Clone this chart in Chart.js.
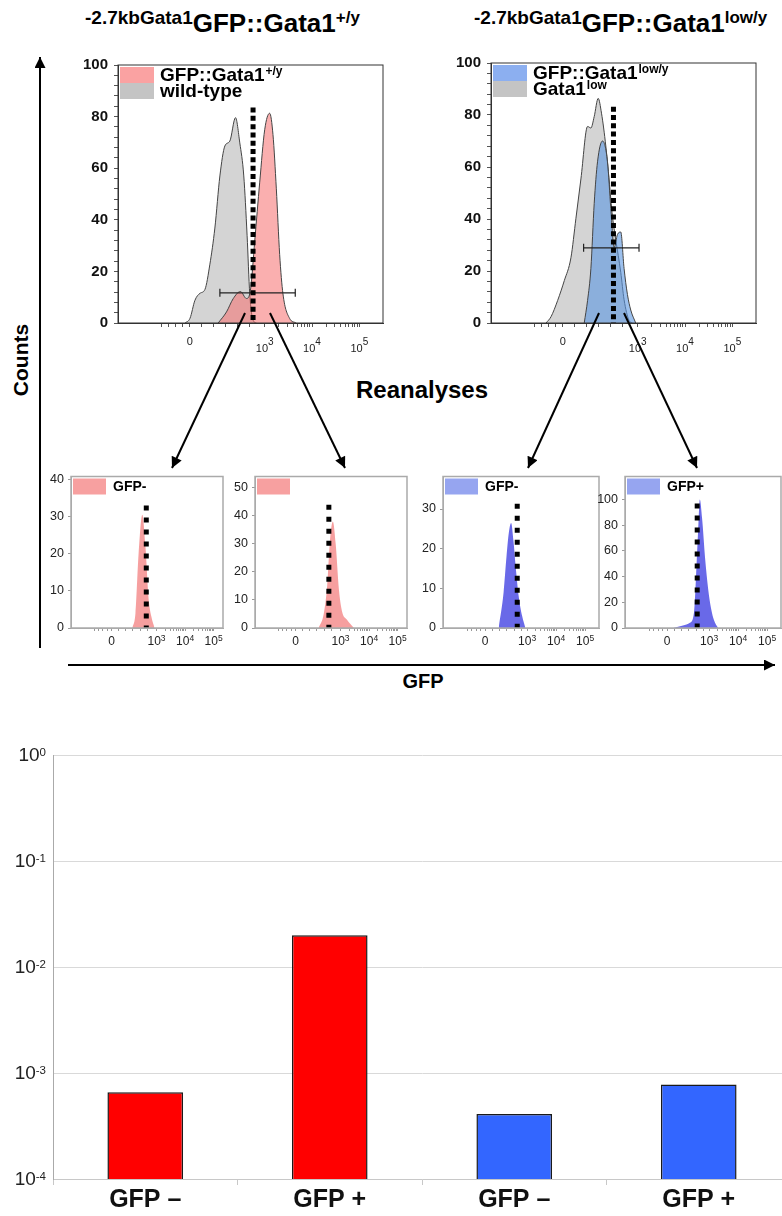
<!DOCTYPE html>
<html>
<head>
<meta charset="utf-8">
<script src="https://cdn.jsdelivr.net/npm/chart.js@4.4.0/dist/chart.umd.min.js"></script>
<style>
  html, body { margin: 0; padding: 0; background: #fff; }
  body { width: 782px; height: 1216px; overflow: hidden; position: relative; font-family: 'Liberation Sans', Arial, sans-serif; color: #000; }
  canvas { position: absolute; }
  .txt { position: absolute; font-weight: bold; white-space: nowrap; line-height: 1; }
  .ttl { font-size: 26px; }
  .ttl .pre { font-size: 19px; vertical-align: 8px; }
  .ttl .post { font-size: 17px; vertical-align: 9px; }
  svg { position: absolute; left: 0; top: 0; }
</style>
</head>
<body>
<div class="txt ttl" style="left:85px;top:8px"><span class="pre">-2.7kbGata1</span>GFP::Gata1<span class="post">+/y</span></div>
<div class="txt ttl" style="left:474px;top:8px"><span class="pre">-2.7kbGata1</span>GFP::Gata1<span class="post">low/y</span></div>
<div class="txt" style="left:20px;top:360px;font-size:21px;transform:translate(-50%,-50%) rotate(-90deg)">Counts</div>
<div class="txt" style="left:422px;top:378px;font-size:24px;transform:translateX(-50%)">Reanalyses</div>
<div class="txt" style="left:423px;top:671px;font-size:20px;transform:translateX(-50%)">GFP</div>

<canvas id="topWt" width="320" height="310" style="left:70px;top:50px"></canvas>
<canvas id="topLow" width="320" height="312" style="left:443px;top:48px"></canvas>
<canvas id="reA" width="190" height="190" style="left:40px;top:465px"></canvas>
<canvas id="reB" width="190" height="190" style="left:224px;top:465px"></canvas>
<canvas id="reC" width="194" height="190" style="left:412px;top:465px"></canvas>
<canvas id="reD" width="194" height="190" style="left:594px;top:465px"></canvas>
<canvas id="bars" width="791" height="476" style="left:0;top:740px"></canvas>

<svg width="782" height="1216">
  <defs>
    <marker id="hd" viewBox="0 0 10 10" refX="10" refY="5" markerUnits="userSpaceOnUse" markerWidth="14" markerHeight="11" orient="auto">
      <path d="M0,0 L10,5 L0,10 z" fill="#000"/>
    </marker>
  </defs>
  <g stroke="#000" stroke-width="2" fill="none">
    <line x1="40" y1="648" x2="40" y2="57" marker-end="url(#hd)"/>
    <line x1="68" y1="665" x2="775" y2="665" marker-end="url(#hd)"/>
    <line x1="245" y1="313" x2="172" y2="468" marker-end="url(#hd)"/>
    <line x1="270" y1="313" x2="345" y2="468" marker-end="url(#hd)"/>
    <line x1="599" y1="313" x2="528" y2="468" marker-end="url(#hd)"/>
    <line x1="624" y1="313" x2="697" y2="468" marker-end="url(#hd)"/>
  </g>
</svg>

<script>
// GFP axis is in display decades: 3 = 10^3, 4 = 10^4 ...
const bigTickValues = [1.42, 3, 4, 5];
const abTickValues = [1.42, 3, 4, 5];
const cdTickValues = [1.55, 3, 4, 5];
const tickBase = ['0', '10', '10', '10'];
const tickSup = ['', '3', '4', '5'];

// top left: wild-type vs GFP::Gata1+/y
const wtGfp = [1.316, 1.421, 1.526, 1.632, 1.737, 1.842, 1.947, 2.053, 2.158, 2.263, 2.383, 2.474, 2.558, 2.628, 2.684, 2.754, 2.825];
const wtCounts = [0, 1.8, 8.8, 11.5, 13, 22.8, 36.8, 57, 68.6, 70.5, 79.6, 69.8, 57, 34, 11.3, 1.1, 0];
const wtTgGfp = [2.017, 2.193, 2.333, 2.488, 2.614, 2.698, 2.789, 2.895, 3.0, 3.105, 3.175, 3.246, 3.316, 3.386, 3.526, 3.667];
const wtTgCounts = [0, 4.3, 9.4, 12.2, 9.5, 12.6, 31.7, 54.6, 74.9, 81.3, 73, 52, 26.6, 11.3, 1.8, 0];
const wtCut = 2.754, wtCutTop = 83.5;
const wtGate = [2.053, 3.646], wtGateY = 11.7;

// top right: Gata1low vs GFP::Gata1low/y
const lowGfp = [1.063, 1.168, 1.309, 1.449, 1.589, 1.695, 1.8, 1.941, 2.011, 2.081, 2.165, 2.235, 2.326, 2.396, 2.467, 2.537, 2.642, 2.712, 2.817, 2.888];
const lowCounts = [0, 2.4, 8.7, 16.3, 25.1, 40.3, 55.4, 75.6, 75, 79.4, 86.4, 80.7, 68.1, 55, 41, 32, 19.5, 9, 1, 0];
const lowTgGfp = [1.87, 1.941, 2.011, 2.081, 2.151, 2.257, 2.362, 2.432, 2.502, 2.572, 2.642, 2.712, 2.783, 2.853, 2.958];
const lowTgCounts = [0, 8.7, 21, 46, 62, 70, 62, 44, 29, 34, 35, 21, 11, 5, 0];
const lowCut = 2.488, lowCutTop = 83.2;
const lowGate = [1.857, 3.028], lowGateY = 28.9;

// reanalyses of sorted fractions
const reWtNegGfp = [2.15, 2.26, 2.37, 2.50, 2.61, 2.72, 2.82, 2.93];
const reWtNegCounts = [0, 4, 20, 30.5, 22, 8, 3, 0];
const reWtPosGfp = [2.23, 2.41, 2.53, 2.62, 2.73, 2.83, 2.94, 3.05, 3.22, 3.47];
const reWtPosCounts = [0, 5, 15, 30, 38, 30, 14, 6, 3, 0];
const reLowNegGfp = [2.02, 2.19, 2.29, 2.37, 2.45, 2.53, 2.60, 2.71, 2.83, 2.94];
const reLowNegCounts = [0, 9, 18, 24, 26.5, 22, 16, 8, 3, 0];
const reLowPosGfp = [1.76, 2.10, 2.34, 2.48, 2.55, 2.62, 2.68, 2.76, 2.86, 2.97, 3.07, 3.17, 3.31];
const reLowPosCounts = [0, 2, 4, 12, 40, 75, 100, 85, 55, 30, 15, 6, 0];
const reCuts = [2.64, 2.59, 2.66, 2.59];
const reCutTops = [33, 44, 31.3, 97];

// bottom bar chart
const barLabels = ['GFP –', 'GFP +', 'GFP –', 'GFP +'];
const barValues = [6.6e-4, 0.0199, 4.1e-4, 7.8e-4];
const decadeTicks = [1, 0.1, 0.01, 0.001, 0.0001];
const decadeSup = ['0', '-1', '-2', '-3', '-4'];

const FAM = "'Liberation Sans', Arial, sans-serif";
Chart.defaults.font.family = FAM;

const RED = 'rgba(245,110,110,0.55)';
const GREY = 'rgb(212,212,212)';
const BLUE = 'rgba(90,150,225,0.6)';
const RED_S = 'rgba(240,100,100,0.62)';
const BLUE_S = 'rgb(105,105,232)';

// box around the plot area
const frame = {
  id: 'frame',
  afterDraw(chart, args, o) {
    if (!o.color) return;
    const { ctx, chartArea: a } = chart;
    ctx.save();
    ctx.strokeStyle = o.color;
    ctx.lineWidth = o.width;
    ctx.strokeRect(a.left, a.top, a.right - a.left, a.bottom - a.top);
    ctx.restore();
  }
};

// legend drawn inside the top-left corner of the plot
const innerLegend = {
  id: 'innerLegend',
  afterDraw(chart, args, o) {
    if (!o.items) return;
    const { ctx, chartArea: a } = chart;
    ctx.save();
    ctx.textBaseline = 'alphabetic';
    o.items.forEach((it, i) => {
      const x = a.left + o.dx, y = a.top + o.dy + i * o.boxH;
      ctx.fillStyle = it.fill;
      ctx.fillRect(x, y, o.boxW, o.boxH);
      if (!it.text) return;
      ctx.fillStyle = '#000';
      ctx.font = o.font;
      const tx = x + o.boxW + o.gap, ty = y + o.base;
      ctx.fillText(it.text, tx, ty);
      if (it.sup) {
        const w = ctx.measureText(it.text).width;
        ctx.font = o.supFont;
        ctx.fillText(it.sup, tx + w + 1, ty - o.rise);
      }
    });
    ctx.restore();
  }
};

// tick labels with superscripts (10^3, 10^-2 ...)
const supTicks = {
  id: 'supTicks',
  afterDraw(chart, args, o) {
    if (!o.values) return;
    const { ctx, chartArea: a } = chart;
    const sc = chart.scales[o.axis];
    ctx.save();
    ctx.fillStyle = o.color;
    ctx.textBaseline = 'alphabetic';
    o.values.forEach((v, i) => {
      const p = sc.getPixelForValue(v);
      ctx.font = o.font;
      const wb = ctx.measureText(o.base[i]).width;
      ctx.font = o.supFont;
      const ws = o.sup[i] ? ctx.measureText(o.sup[i]).width : 0;
      let x, y;
      if (o.axis === 'x') {
        x = p - (wb + ws) / 2;
        y = a.bottom + o.offset - (o.sup[i] ? 0 : o.lift);
      } else {
        x = a.left - o.offset - wb - ws;
        y = p + o.mid;
      }
      ctx.font = o.font;
      ctx.fillText(o.base[i], x, y);
      if (o.sup[i]) {
        ctx.font = o.supFont;
        ctx.fillText(o.sup[i], x + wb, y - o.rise);
      }
    });
    ctx.restore();
  }
};

Chart.register(frame, innerLegend, supTicks);

const pts = (xs, ys) => xs.map((x, i) => ({ x: x, y: ys[i] }));

function gfpTicks(zero, majors, min, max) {
  const t = majors.slice();
  [0.15, 0.3, 0.45, 0.6].forEach(d => t.push(zero - d));
  [0.25, 0.5, 0.75, 1.0, 1.25].forEach(d => t.push(zero + d));
  [3, 4].forEach(d => { for (let k = 2; k < 10; k++) t.push(d + Math.log10(k)); });
  return t.filter(v => v >= min && v <= max).sort((p, q) => p - q).map(v => ({ value: v }));
}

function flowChart(id, o) {
  const big = o.big;
  const datasets = [{
    data: pts([o.cut, o.cut], [o.cutTop, 0]),
    borderColor: '#000', borderWidth: 5, borderDash: big ? [5, 3.3] : [5, 7],
    borderCapStyle: 'butt', pointRadius: 0, fill: false
  }];
  if (o.gate) {
    datasets.push({
      data: pts(o.gate, [o.gateY, o.gateY]),
      borderColor: '#222', borderWidth: 1.2, pointStyle: 'line', rotation: 90,
      pointRadius: 4, pointBorderWidth: 1.2, pointBorderColor: '#222', fill: false
    });
  }
  o.layers.forEach(l => datasets.push({
    data: pts(l.x, l.y), backgroundColor: l.fill, borderColor: l.line, borderWidth: l.lw,
    pointRadius: 0, fill: 'origin', cubicInterpolationMode: 'monotone'
  }));

  return new Chart(document.getElementById(id), {
    type: 'line',
    data: { datasets: datasets },
    options: {
      responsive: false, animation: false, events: [],
      layout: { padding: { top: o.padTop, right: 7, left: 0, bottom: 0 } },
      plugins: {
        legend: { display: false }, tooltip: { enabled: false },
        frame: { color: big ? '#333' : '#aaa', width: big ? 1 : 1.5 },
        innerLegend: big
          ? { items: o.legend, dx: 2, dy: 2, boxW: 34, boxH: 16, gap: 6, base: 14, rise: 6,
              font: 'bold 19px ' + FAM, supFont: 'bold 12px ' + FAM }
          : { items: o.legend, dx: 2, dy: 2, boxW: 33, boxH: 16, gap: 7, base: 12, rise: 5,
              font: 'bold 14px ' + FAM, supFont: 'bold 10px ' + FAM },
        supTicks: big
          ? { axis: 'x', values: o.tickValues, base: tickBase, sup: tickSup, color: '#222',
              font: '11px ' + FAM, supFont: '10px ' + FAM, offset: 29, lift: 7, rise: 7 }
          : { axis: 'x', values: o.tickValues, base: tickBase, sup: tickSup, color: '#222',
              font: '12px ' + FAM, supFont: '8.5px ' + FAM, offset: 17, lift: 0, rise: 4.5 }
      },
      scales: {
        x: {
          type: 'linear', min: o.min, max: o.max,
          afterBuildTicks: s => { s.ticks = gfpTicks(o.tickValues[0], o.tickValues, o.min, o.max); },
          afterFit: s => { s.height = o.xH; },
          ticks: { display: false },
          grid: { drawOnChartArea: false, tickLength: big ? 4 : 3, color: big ? '#555' : '#999' },
          border: { color: big ? '#333' : '#aaa' }
        },
        y: {
          min: 0, max: o.yMax,
          afterFit: s => { s.width = o.yW; },
          ticks: {
            stepSize: o.yStep, includeBounds: false, autoSkip: false,
            callback: v => (v % o.yLabelStep === 0 ? v : ''),
            font: big ? { size: 15, weight: 'bold' } : { size: 12.5 },
            color: big ? '#111' : '#222', padding: big ? 6 : 4
          },
          grid: { drawOnChartArea: false, tickLength: big ? 4 : 3, color: big ? '#555' : '#999' },
          border: { color: big ? '#333' : '#aaa' }
        }
      }
    }
  });
}

const bigCommon = { big: true, min: -0.1, max: 5.5, tickValues: bigTickValues, yMax: 100, yStep: 4, yLabelStep: 20, xH: 37, yW: 48, padTop: 11 };

flowChart('topWt', Object.assign({}, bigCommon, {
  cut: wtCut, cutTop: wtCutTop, gate: wtGate, gateY: wtGateY,
  layers: [
    { x: wtTgGfp, y: wtTgCounts, fill: RED, line: '#444', lw: 1 },
    { x: wtGfp, y: wtCounts, fill: GREY, line: '#444', lw: 1 }
  ],
  legend: [
    { text: 'GFP::Gata1', sup: '+/y', fill: 'rgb(250,162,162)' },
    { text: 'wild-type', sup: '', fill: 'rgb(196,196,196)' }
  ]
}));

flowChart('topLow', Object.assign({}, bigCommon, {
  cut: lowCut, cutTop: lowCutTop, gate: lowGate, gateY: lowGateY,
  layers: [
    { x: lowTgGfp, y: lowTgCounts, fill: BLUE, line: '#444', lw: 1 },
    { x: lowGfp, y: lowCounts, fill: GREY, line: '#444', lw: 1 }
  ],
  legend: [
    { text: 'GFP::Gata1', sup: 'low/y', fill: 'rgb(140,175,240)' },
    { text: 'Gata1', sup: 'low', fill: 'rgb(196,196,196)' }
  ]
}));

const smallCommon = { big: false, xH: 27, yW: 31, padTop: 10 };

flowChart('reA', Object.assign({}, smallCommon, {
  min: 0, max: 5.33, tickValues: abTickValues, yMax: 40.8, yStep: 10, yLabelStep: 10,
  cut: reCuts[0], cutTop: reCutTops[0],
  layers: [{ x: reWtNegGfp, y: reWtNegCounts, fill: RED_S, line: RED_S, lw: 0 }],
  legend: [{ text: 'GFP-', sup: '', fill: 'rgb(247,160,160)' }]
}));

flowChart('reB', Object.assign({}, smallCommon, {
  min: 0, max: 5.33, tickValues: abTickValues, yMax: 54.1, yStep: 10, yLabelStep: 10,
  cut: reCuts[1], cutTop: reCutTops[1],
  layers: [{ x: reWtPosGfp, y: reWtPosCounts, fill: RED_S, line: RED_S, lw: 0 }],
  legend: [{ text: '', sup: '', fill: 'rgb(247,160,160)' }]
}));

flowChart('reC', Object.assign({}, smallCommon, {
  min: 0.1, max: 5.48, tickValues: cdTickValues, yMax: 38.2, yStep: 10, yLabelStep: 10,
  cut: reCuts[2], cutTop: reCutTops[2],
  layers: [{ x: reLowNegGfp, y: reLowNegCounts, fill: BLUE_S, line: BLUE_S, lw: 0 }],
  legend: [{ text: 'GFP-', sup: '', fill: 'rgb(150,165,240)' }]
}));

flowChart('reD', Object.assign({}, smallCommon, {
  min: 0.1, max: 5.48, tickValues: cdTickValues, yMax: 118, yStep: 20, yLabelStep: 20,
  cut: reCuts[3], cutTop: reCutTops[3],
  layers: [{ x: reLowPosGfp, y: reLowPosCounts, fill: BLUE_S, line: BLUE_S, lw: 0 }],
  legend: [{ text: 'GFP+', sup: '', fill: 'rgb(150,165,240)' }]
}));

new Chart(document.getElementById('bars'), {
  type: 'bar',
  data: {
    labels: barLabels,
    datasets: [{
      data: barValues,
      backgroundColor: ['#ff0000', '#ff0000', '#3366ff', '#3366ff'],
      borderColor: '#1a1a1a', borderWidth: 1.5,
      barPercentage: 0.41, categoryPercentage: 1
    }]
  },
  options: {
    responsive: false, animation: false, events: [],
    layout: { padding: { top: 15, right: 0, left: 0, bottom: 0 } },
    plugins: {
      legend: { display: false }, tooltip: { enabled: false },
      supTicks: { axis: 'y', values: decadeTicks, base: decadeTicks.map(() => '10'), sup: decadeSup,
                  color: '#222', font: '19px ' + FAM, supFont: '11.5px ' + FAM, offset: 7, mid: 6, rise: 5 }
    },
    scales: {
      x: {
        grid: { offset: true, drawOnChartArea: false, tickLength: 6, color: '#c8c8c8' },
        border: { color: '#c8c8c8' },
        ticks: { font: { size: 25, weight: 'bold' }, color: '#111', padding: 0 },
        afterFit: s => { s.height = 37; }
      },
      y: {
        type: 'logarithmic', min: 1e-4, max: 1,
        afterBuildTicks: s => { s.ticks = decadeTicks.map(v => ({ value: v })); },
        ticks: { display: false },
        grid: { color: '#d9d9d9', drawTicks: false },
        border: { color: '#aaa' },
        afterFit: s => { s.width = 53; }
      }
    }
  }
});
</script>
</body>
</html>
